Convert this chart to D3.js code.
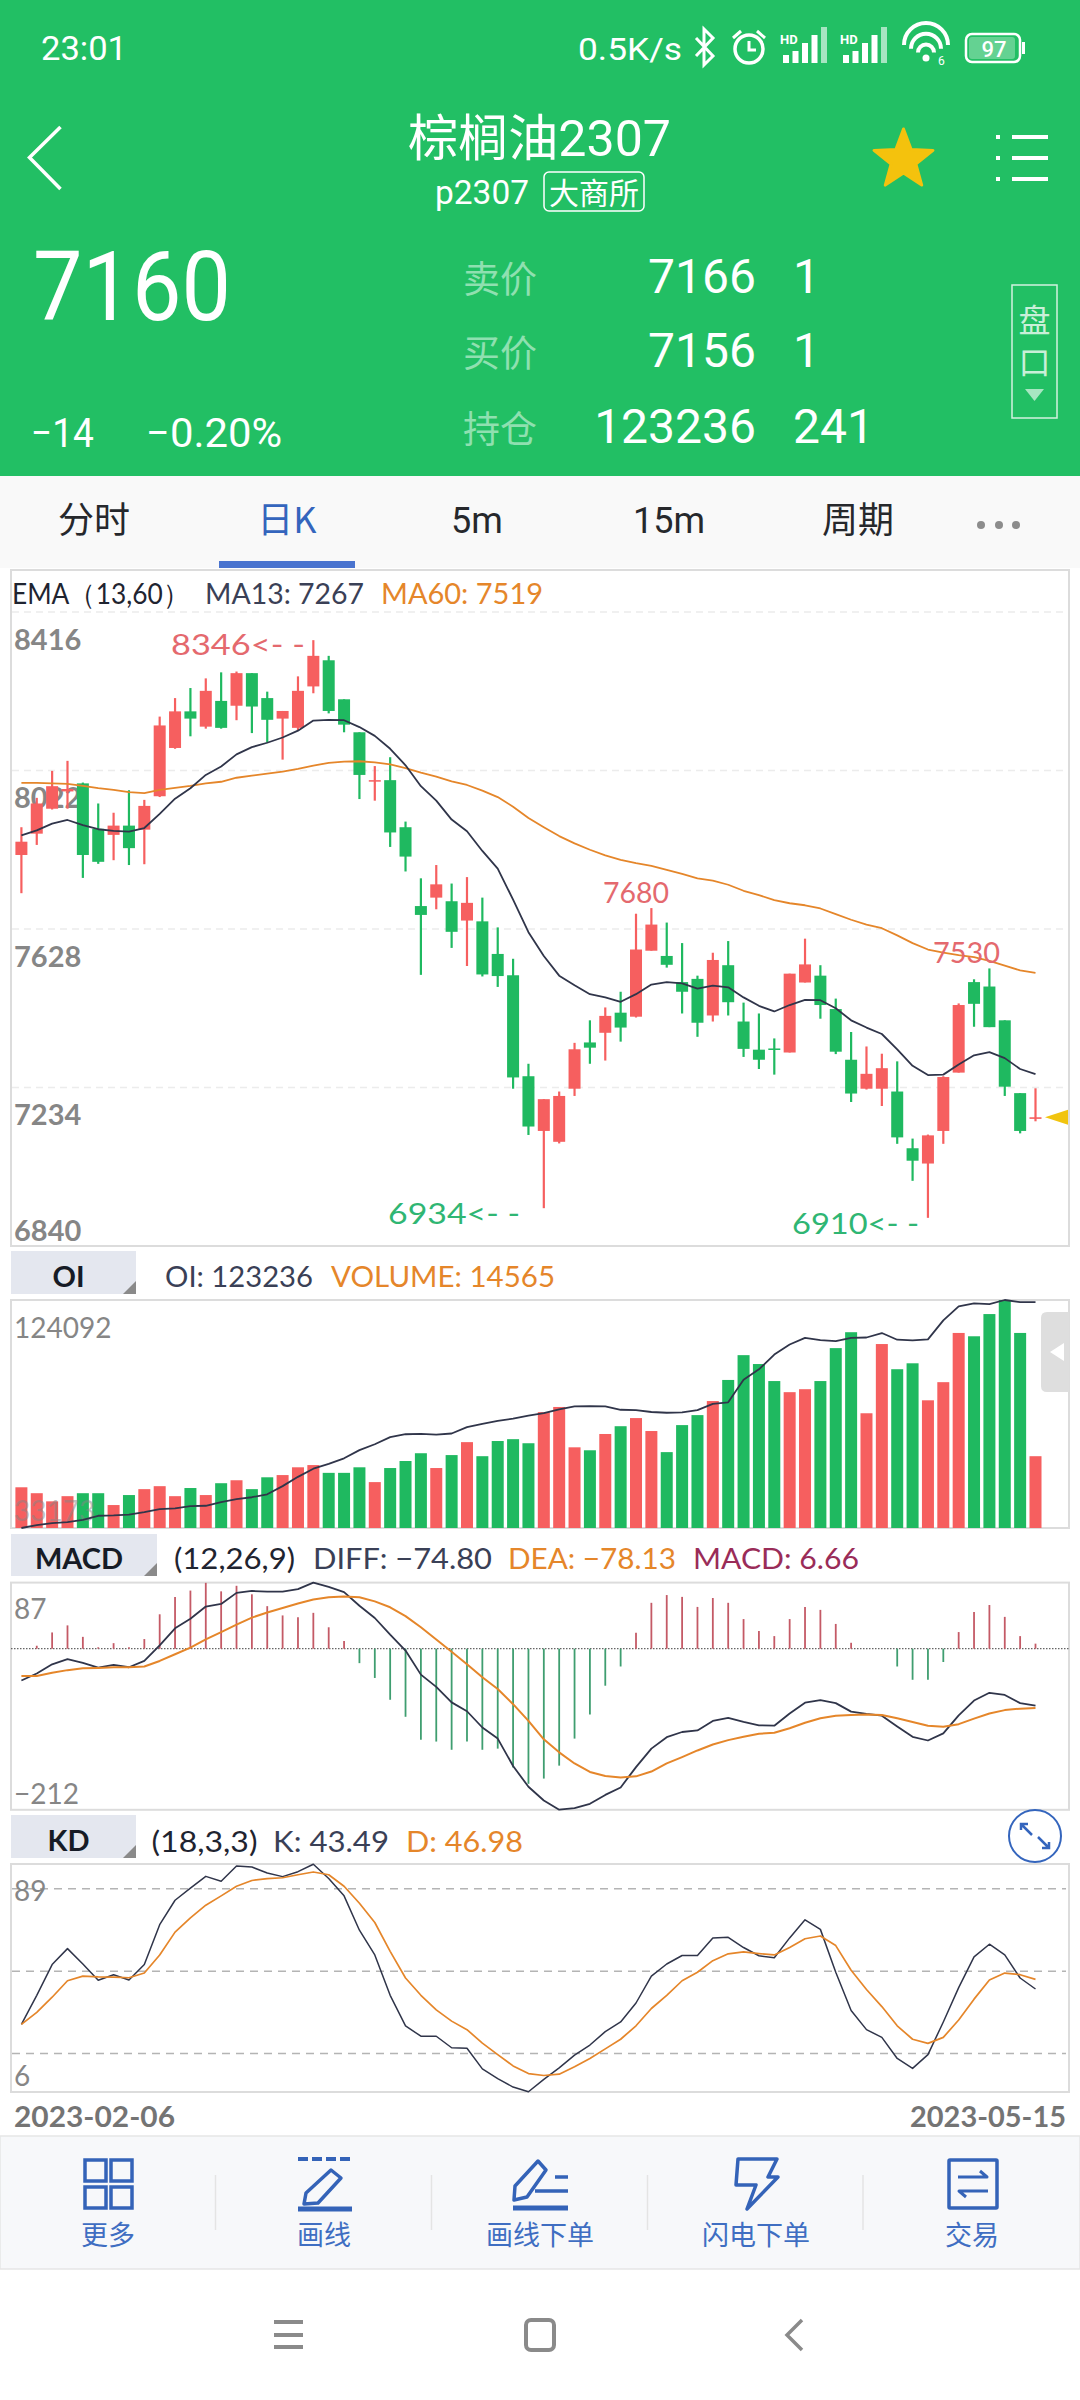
<!DOCTYPE html>
<html>
<head>
<meta charset="utf-8">
<style>
  html, body { margin: 0; padding: 0; background: #fff; }
  svg { display: block; }
</style>
<script src="https://cdn.jsdelivr.net/npm/d3@7"></script>
</head>
<body>
<svg id="chart" width="1080" height="2400"></svg>
<script>
const opens = [7812,7865,7927,7970,7990,7877,7862,7885,7875,7958,8078,8169,8131,8195,8183,8264,8202,8151,8128,8231,8296,8199,8117,7996,7998,7881,7685,7706,7697,7649,7647,7566,7513,7262,7126,7099,7231,7346,7370,7420,7410,7574,7561,7496,7504,7413,7538,7398,7328,7331,7321,7495,7512,7429,7303,7231,7231,7224,7083,7045,7126,7271,7496,7485,7401,7220,7156]
const highs = [7881,7954,8021,8046,7992,7940,7917,7973,7949,8156,8202,8227,8251,8266,8268,8264,8218,8170,8256,8346,8307,8199,8117,8033,8055,7895,7754,7787,7741,7757,7706,7632,7554,7293,7205,7224,7345,7401,7433,7472,7666,7680,7644,7593,7512,7569,7598,7445,7418,7356,7517,7604,7538,7455,7372,7336,7318,7299,7107,7117,7262,7443,7503,7530,7401,7220,7232]
const lows = [7717,7837,7925,7927,7755,7790,7799,7787,7789,7956,8076,8107,8126,8126,8147,8115,8091,8049,8121,8214,8164,8117,7951,7947,7832,7771,7514,7677,7581,7536,7510,7484,7231,7116,6934,7095,7213,7293,7301,7348,7408,7574,7532,7418,7360,7398,7413,7310,7280,7266,7321,7495,7405,7317,7198,7229,7188,7094,7002,6910,7094,7271,7385,7384,7213,7120,7150]
const closes = [7845,7940,7983,7976,7812,7795,7885,7829,7934,8134,8169,8151,8220,8128,8264,8181,8148,8170,8220,8307,8170,8136,8011,7998,7868,7808,7663,7739,7621,7693,7515,7511,7259,7137,7205,7213,7329,7333,7412,7383,7577,7639,7539,7472,7395,7551,7446,7330,7303,7328,7517,7540,7439,7323,7219,7268,7282,7110,7052,7115,7260,7439,7442,7384,7236,7126,7160]
const ma13 = [7861,7873,7890,7899,7886,7876,7872,7870,7879,7914,7952,7978,8011,8032,8062,8080,8091,8104,8121,8146,8148,8147,8130,8108,8076,8035,7983,7947,7900,7871,7822,7778,7701,7620,7561,7512,7488,7466,7458,7447,7466,7490,7496,7493,7480,7487,7483,7458,7437,7423,7439,7452,7451,7431,7401,7383,7367,7329,7288,7265,7266,7291,7314,7322,7307,7280,7267]
const ma60 = [7991,7991,7990,7989,7984,7978,7974,7968,7966,7974,7979,7984,7990,7994,8004,8009,8014,8019,8026,8034,8041,8044,8045,8042,8037,8028,8017,8007,7995,7986,7972,7956,7932,7904,7881,7859,7841,7825,7811,7800,7792,7785,7775,7765,7754,7748,7738,7723,7712,7700,7692,7687,7679,7665,7651,7639,7630,7612,7593,7577,7569,7563,7558,7549,7537,7525,7519]
const volumes = [8259,7058,5406,6457,7058,7058,4655,6682,7883,8484,6457,8109,6682,9085,9685,7883,10286,10736,12313,12764,11187,11187,12313,9310,12163,13589,15166,12163,14791,17419,14565,17644,18019,17193,23500,24551,16367,15767,19070,20647,22299,19671,15391,20872,22899,25752,30032,35062,33260,29807,27554,28155,29807,36489,39717,23275,37315,32209,33411,25903,29582,39567,38891,43396,46249,39567,14565]
const openInterest = [33173,34355,35094,35538,36425,38050,38198,38494,39528,40711,41006,41893,42041,43519,44701,45440,46623,49874,53569,56821,58742,60959,64211,66576,69384,70566,70714,70419,70862,73375,74705,75887,76774,77956,78991,80469,81651,81799,81651,80321,80173,79434,79139,79287,80173,82686,83277,92293,96431,102343,106334,108994,108108,107664,108994,109142,110916,108255,107960,108403,115941,121557,122740,122444,124092,123236,123236]
const diffValues = [-41.9,-32.6,-20.5,-13.6,-18.5,-24.8,-21.4,-24.4,-16.1,4.4,26.8,39.4,55.5,58.9,73.5,76,75,75,78.4,87,81.3,74.5,56.5,40.4,18.5,-2.4,-34.1,-50.2,-70.6,-82.3,-103.7,-118.3,-154.4,-181.7,-199.7,-211.8,-209.9,-204.1,-192.4,-182.6,-155.8,-131.5,-116.4,-109.6,-107.6,-95,-91.1,-96.4,-100.8,-101.3,-85.2,-71.1,-67.7,-71.6,-82.8,-85.7,-88.1,-102.3,-115.9,-120.8,-111.5,-87.7,-68.2,-58,-60.9,-71.6,-74.8]
const deaValues = [-36,-36,-31.7,-28.2,-25.8,-25.3,-24.4,-24.4,-23.4,-16.1,-7.3,1.5,12.2,21.9,31.7,40.9,47.7,53.6,59.4,64.8,67.7,68.7,67.7,62.3,54.5,42.9,28.2,12.2,-3.9,-20.5,-37.5,-53.1,-73,-95,-119.3,-136.4,-151,-162.2,-167.5,-169.5,-168,-161.7,-151,-142.7,-133.9,-126.1,-120.3,-115.9,-112,-110.5,-104.7,-97.4,-91.6,-88.1,-87.2,-86.7,-87.2,-91.6,-96.4,-101.3,-102.8,-99.3,-92,-85.2,-80.8,-78.9,-78.13]
const macdValues = [0,3.9,21.4,30.7,15.6,1.9,7.3,1.9,12.7,45.3,68.2,76.5,86.7,75.5,82.8,71.6,56,43.8,41.4,47.2,28.2,10.2,-19,-38.5,-67.2,-89.6,-119.8,-122.2,-133,-122.2,-133,-131.5,-156.3,-177.8,-170.9,-153.9,-118.3,-86.7,-48.7,-23.4,20.9,60.4,70.6,68.2,55,66.7,60.4,39,23.4,16.6,39,55,51.1,32.6,7.8,0,0,-23.4,-40.9,-40.9,-17.5,21.9,48.2,57.5,41.9,16.6,6.66]
const kValues = [30.6,41.2,52.4,58.2,52.6,46.7,48.7,46.8,52.4,66.9,75.8,80.2,84.5,82.7,88.3,87.9,85.7,84.4,86.2,88.9,83.7,77.4,64.9,55.9,41.2,30.1,26.3,26.3,22.1,21.9,14.4,10.9,7.8,6.1,10.6,14.8,19.4,23.1,28,31.5,38.4,48.2,52.6,55.7,55.7,62.1,62.3,58.6,55.6,54.9,62.1,68.7,65.2,49.6,35.7,28.7,25.9,18.2,14.6,19.6,31.5,44,55.2,59.8,55.9,47.5,43.49]
const dValues = [30.6,35,40.5,46.5,48.2,47.9,47.8,47.6,49.3,55.9,64.2,69.4,74,77.4,80.9,83,83.7,84,85.1,86.1,85.1,80.9,74.7,67.7,57.2,47.5,41.2,35.9,31.8,28.7,23.8,19.6,15.5,12.7,12,12.5,15.2,18.2,21.7,25.2,30.1,36.4,41.2,46.5,49.6,53.8,56.3,57,56.4,55.9,58.6,61.8,62.8,59.3,50.3,43.3,37.1,30.1,25.2,23.7,25.9,32.2,39.8,46.8,49.3,48.7,46.98]

const priceTicks = [8416, 8022, 7628, 7234, 6840]
const oiTicks = [124092, 33173]
const macdTicks = [87, -212]
const kdTicks = [89, 6]
const kdGrid = [80, 50, 20]
const dateLabels = ['2023-02-06', '2023-05-15']

const RED = '#f65f5f'
const GREEN = '#1fb960'
const HEADER = '#22bf64'
const BLUE = '#3465bd'
const LINE = '#30354a'
const ORANGE = '#e5862a'
const GRAY = '#868686'
const FRAME = '#dcdcdc'
const CJK = '"Noto Sans CJK SC", sans-serif'
const NUM = 'Roboto, sans-serif'
const LATIN = 'Lato, "Open Sans", sans-serif'

const svg = d3.select('#chart')

const label = (parent, x, y, str, o = {}) => {
  const t = parent.append('text')
    .attr('x', x)
    .attr('y', y)
    .attr('fill', o.fill || '#fff')
    .attr('font-family', o.family || NUM)
    .attr('font-size', o.size || 28)
    .attr('font-weight', o.weight || 400)
    .attr('text-anchor', o.anchor || 'start')
    .text(str)
  if (o.width) {
    t.attr('textLength', o.width).attr('lengthAdjust', 'spacingAndGlyphs')
  }
  if (o.opacity) t.attr('opacity', o.opacity)
  return t
}

const drawStatusBar = (g) => {
  label(g, 41, 60, '23:01', { size: 33, width: 86 })
  label(g, 578, 60, '0.5K/s', { size: 32, width: 104 })

  // bluetooth
  g.append('path').attr('d', 'M696 38 L713 56 L704 65 L704 29 L713 38 L696 56')
    .attr('fill', 'none').attr('stroke', '#fff').attr('stroke-width', 3)
  // alarm
  g.append('circle').attr('cx', 749).attr('cy', 49).attr('r', 14)
    .attr('fill', 'none').attr('stroke', '#fff').attr('stroke-width', 3.5)
  g.append('path').attr('d', 'M749 41 V50 H756 M733 38 L741 31 M765 38 L757 31')
    .attr('fill', 'none').attr('stroke', '#fff').attr('stroke-width', 3)

  // signal bars, two sims
  ;[783, 843].forEach(x0 => {
    label(g, x0 - 3, 44, 'HD', { size: 13, weight: 700 })
    ;[8, 12, 20, 28, 36].forEach((h, i) => {
      g.append('rect').attr('x', x0 + i * 9.5).attr('y', 63 - h)
        .attr('width', 6).attr('height', h).attr('fill', '#fff')
        .attr('opacity', i == 4 ? 0.6 : 1)
    })
  })

  // wifi
  ;[22, 15, 8].forEach(r => {
    g.append('path')
      .attr('d', `M${926 - r} ${57 - r * 0.55} A${r} ${r} 0 0 1 ${926 + r} ${57 - r * 0.55}`)
      .attr('fill', 'none').attr('stroke', '#fff').attr('stroke-width', 4)
  })
  g.append('circle').attr('cx', 926).attr('cy', 58).attr('r', 3.5).attr('fill', '#fff')
  label(g, 938, 65, '6', { size: 12 })

  // battery
  g.append('rect').attr('x', 966).attr('y', 34).attr('width', 54).attr('height', 28).attr('rx', 6)
    .attr('fill', 'none').attr('stroke', '#fff').attr('stroke-width', 2.5)
  g.append('rect').attr('x', 969).attr('y', 37).attr('width', 46).attr('height', 22).attr('rx', 3)
    .attr('fill', '#fff').attr('opacity', 0.3)
  g.append('rect').attr('x', 1022).attr('y', 42).attr('width', 3).attr('height', 12).attr('fill', '#fff')
  label(g, 994, 57, '97', { size: 22, anchor: 'middle', weight: 500 })
}

const drawQuoteHeader = () => {
  const g = svg.append('g')
  g.append('rect').attr('width', 1080).attr('height', 476).attr('fill', HEADER)
  drawStatusBar(g)

  g.append('path').attr('d', 'M60.5 127 L29.5 157.5 L60.5 189')
    .attr('fill', 'none').attr('stroke', '#fff').attr('stroke-width', 3.5)

  const title = label(g, 408, 156, '', { size: 50, family: CJK, width: 263 })
  title.append('tspan').text('棕榈油')
  title.append('tspan').attr('font-family', NUM).text('2307')

  label(g, 435, 204, 'p2307', { size: 33, width: 94 })
  g.append('rect').attr('x', 544).attr('y', 172).attr('width', 100).attr('height', 39).attr('rx', 5)
    .attr('fill', 'none').attr('stroke', '#fff').attr('stroke-width', 1.5)
  label(g, 594, 204, '大商所', { size: 30, family: CJK, anchor: 'middle' })

  const star = d3.range(10).map(i => {
    const r = i % 2 ? 13 : 31
    const a = -Math.PI / 2 + i * Math.PI / 5
    return [903.5 + r * Math.cos(a), 160 + r * Math.sin(a)]
  })
  g.append('path').attr('d', d3.line()(star) + 'Z').attr('fill', '#f4c20d')
    .attr('stroke', '#f4c20d').attr('stroke-width', 3).attr('stroke-linejoin', 'round')

  ;[137, 158, 179].forEach(y => {
    g.append('rect').attr('x', 996).attr('y', y - 2).attr('width', 4).attr('height', 4).attr('fill', '#fff')
    g.append('rect').attr('x', 1012).attr('y', y - 2).attr('width', 36).attr('height', 4).attr('fill', '#fff')
  })

  label(g, 33, 320, '7160', { size: 96, width: 198 })
  label(g, 31, 447, '−14', { size: 40, width: 63 })
  label(g, 146, 447, '−0.20%', { size: 40, width: 136 })

  const pale = '#8fe0b0'
  const rows = [
    ['卖价', '7166', '1', 293],
    ['买价', '7156', '1', 367],
    ['持仓', '123236', '241', 443]
  ]
  rows.forEach(r => {
    label(g, 463, r[3], r[0], { size: 37, family: CJK, fill: pale })
    label(g, 756, r[3], r[1], { size: 48, anchor: 'end' })
    label(g, 793, r[3], r[2], { size: 48 })
  })

  g.append('rect').attr('x', 1012).attr('y', 285).attr('width', 45).attr('height', 133)
    .attr('fill', 'none').attr('stroke', '#d3f2df').attr('stroke-width', 1.5)
  label(g, 1034.5, 332, '盘', { size: 32, family: CJK, fill: '#c8efd8', anchor: 'middle' })
  label(g, 1034.5, 374, '口', { size: 32, family: CJK, fill: '#c8efd8', anchor: 'middle' })
  g.append('path').attr('d', 'M1025 389 H1044 L1034.5 401 Z').attr('fill', '#a8e6c2')
}

const drawTabs = () => {
  const g = svg.append('g')
  g.append('rect').attr('y', 476).attr('width', 1080).attr('height', 92).attr('fill', '#f9f9f9')
  const dark = '#26282c'
  label(g, 94, 533, '分时', { size: 36, family: CJK, fill: dark, anchor: 'middle' })
  label(g, 287, 533, '日K', { size: 36, family: CJK, fill: BLUE, anchor: 'middle' })
  label(g, 477, 533, '5m', { size: 36, fill: dark, anchor: 'middle' })
  label(g, 669, 533, '15m', { size: 36, fill: dark, anchor: 'middle' })
  label(g, 858, 533, '周期', { size: 36, family: CJK, fill: dark, anchor: 'middle' })
  ;[981, 999, 1016].forEach(x => {
    g.append('circle').attr('cx', x).attr('cy', 525).attr('r', 4).attr('fill', '#8c8c8c')
  })
  g.append('rect').attr('x', 219).attr('y', 561).attr('width', 136).attr('height', 7).attr('fill', '#4a74cf')
}

const x = d3.scaleLinear().domain([0, opens.length - 1]).range([21.4, 1035.5])
const yPrice = d3.scaleLinear().domain([6840, 8416]).range([1246, 612])
const yVolume = d3.scaleLinear().domain([0, 46250]).range([1528, 1300])
const yOi = d3.scaleLinear().domain([33173, 124092]).range([1528, 1300])
const yMacd = d3.scaleLinear().domain([-212, 87]).range([1809.8, 1582.6])
const yKd = d3.scaleLinear().domain([6, 89]).range([2092, 1864])

const candleColor = i => closes[i] >= opens[i] ? RED : GREEN

const frame = (y0, y1) => {
  svg.append('rect').attr('x', 11).attr('y', y0).attr('width', 1058).attr('height', y1 - y0)
    .attr('fill', 'none').attr('stroke', FRAME).attr('stroke-width', 2)
}

const valueAxis = (scale, ticks, dyFor, size, weight) => {
  const g = svg.append('g').attr('transform', 'translate(14,0)')
    .call(d3.axisRight(scale).tickValues(ticks).tickSize(0).tickPadding(0)
      .tickFormat(d => String(d).replace('-', '−')))
  g.select('.domain').remove()
  g.selectAll('text')
    .attr('font-family', LATIN)
    .attr('font-size', size)
    .attr('font-weight', weight)
    .attr('fill', GRAY)
    .attr('dy', dyFor)
  return g
}

const gridLines = (scale, ticks, stroke, dash) => {
  svg.append('g').selectAll('line').data(ticks).join('line')
    .attr('x1', 12).attr('x2', 1066)
    .attr('y1', d => scale(d)).attr('y2', d => scale(d))
    .attr('stroke', stroke).attr('stroke-width', 1.5).attr('stroke-dasharray', dash)
}

const drawSeries = (values, scale, color, width = 1.8) => {
  const line = d3.line().x((d, i) => x(i)).y(d => scale(d))
  svg.append('path').attr('d', line(values))
    .attr('fill', 'none').attr('stroke', color).attr('stroke-width', width)
    .attr('stroke-linejoin', 'round')
}

const drawPricePanel = () => {
  frame(570, 1246)
  const head = svg.append('g')
  label(head, 12, 604, 'EMA（13,60）', { size: 28, family: LATIN, fill: '#1f2430', width: 177 })
  label(head, 205, 604, 'MA13: 7267', { size: 28, family: LATIN, fill: '#3a4056', width: 159 })
  label(head, 381, 604, 'MA60: 7519', { size: 28, family: LATIN, fill: ORANGE, width: 162 })

  gridLines(yPrice, priceTicks.slice(0, 4), '#ececec', '7 5')
  valueAxis(yPrice, priceTicks, d => d == 6840 ? -6 : 37, 29, 700)

  const candles = svg.append('g')
  candles.selectAll('line').data(opens).join('line')
    .attr('x1', (d, i) => x(i)).attr('x2', (d, i) => x(i))
    .attr('y1', (d, i) => yPrice(highs[i])).attr('y2', (d, i) => yPrice(lows[i]))
    .attr('stroke', (d, i) => candleColor(i)).attr('stroke-width', 2.2)
  candles.selectAll('rect').data(opens).join('rect')
    .attr('x', (d, i) => x(i) - 6)
    .attr('width', 12)
    .attr('y', (d, i) => yPrice(Math.max(opens[i], closes[i])))
    .attr('height', (d, i) => Math.max(1.5, Math.abs(yPrice(opens[i]) - yPrice(closes[i]))))
    .attr('fill', (d, i) => candleColor(i))

  drawSeries(ma60, yPrice, ORANGE)
  drawSeries(ma13, yPrice, LINE)

  const marks = svg.append('g')
  const redText = '#e4696e'
  const greenText = '#2fb673'
  label(marks, 171, 655, '8346<- -', { size: 29, family: LATIN, fill: redText, width: 134 })
  label(marks, 603, 903, '7680', { size: 29, family: LATIN, fill: redText, width: 66 })
  label(marks, 933, 962.5, '7530', { size: 29, family: LATIN, fill: redText, width: 67 })
  label(marks, 388, 1224, '6934<- -', { size: 29, family: LATIN, fill: greenText, width: 132 })
  label(marks, 792, 1233.5, '6910<- -', { size: 29, family: LATIN, fill: greenText, width: 127 })

  const yLast = yPrice(closes[closes.length - 1])
  marks.append('path').attr('d', `M1045 ${yLast} L1068 ${yLast - 7.5} V${yLast + 7.5} Z`).attr('fill', '#f1c40f')
}

const tabButton = (y0, y1, x1, name) => {
  const g = svg.append('g')
  g.append('rect').attr('x', 11).attr('y', y0).attr('width', x1 - 11).attr('height', y1 - y0).attr('fill', '#e4e7ef')
  g.append('path').attr('d', `M${x1} ${y1 - 13} V${y1} H${x1 - 13} Z`).attr('fill', '#8a8a8a')
  label(g, (11 + x1) / 2 - 5, y1 - 7, name, { size: 29, family: LATIN, fill: '#161b26', anchor: 'middle', weight: 700 })
  return g
}

const drawOiPanel = () => {
  tabButton(1251, 1294, 136, 'OI')
  const head = svg.append('g')
  label(head, 165, 1287, 'OI: 123236', { size: 28, family: LATIN, fill: '#3a4056', width: 148 })
  label(head, 331, 1287, 'VOLUME: 14565', { size: 28, family: LATIN, fill: ORANGE, width: 224 })

  frame(1300, 1528)

  svg.append('g').selectAll('rect').data(volumes).join('rect')
    .attr('x', (d, i) => x(i) - 6)
    .attr('width', 12)
    .attr('y', d => yVolume(d))
    .attr('height', d => yVolume(0) - yVolume(d))
    .attr('fill', (d, i) => candleColor(i))

  valueAxis(yOi, oiTicks, d => d == 33173 ? -8 : 37, 28, 400)
    .selectAll('.tick').attr('opacity', d => d == 33173 ? 0.5 : 1)

  drawSeries(openInterest, yOi, LINE)

  svg.append('path').attr('d', 'M1069 1312 H1047 Q1041 1312 1041 1318 V1386 Q1041 1392 1047 1392 H1069 Z').attr('fill', '#dedede')
  svg.append('path').attr('d', 'M1050 1352 L1064 1343 V1361 Z').attr('fill', '#fff')
}

const drawMacdPanel = () => {
  tabButton(1534, 1576, 157, 'MACD')
  const head = svg.append('g')
  label(head, 174, 1569, '(12,26,9)', { size: 28, family: LATIN, fill: '#1f2430', width: 121 })
  label(head, 313, 1569, 'DIFF: −74.80', { size: 28, family: LATIN, fill: '#3a4056', width: 179 })
  label(head, 508, 1569, 'DEA: −78.13', { size: 28, family: LATIN, fill: ORANGE, width: 168 })
  label(head, 693, 1569, 'MACD: 6.66', { size: 28, family: LATIN, fill: '#9a2c58', width: 166 })

  frame(1582.6, 1809.8)

  valueAxis(yMacd, macdTicks, d => d == 87 ? 36 : -6, 28, 400)

  svg.append('line').attr('x1', 11).attr('x2', 1069)
    .attr('y1', yMacd(0)).attr('y2', yMacd(0))
    .attr('stroke', '#666').attr('stroke-width', 1.2).attr('stroke-dasharray', '1.5 1.5')

  svg.append('g').selectAll('line').data(macdValues).join('line')
    .attr('x1', (d, i) => x(i)).attr('x2', (d, i) => x(i))
    .attr('y1', yMacd(0)).attr('y2', d => yMacd(d))
    .attr('stroke', d => d >= 0 ? '#c45a66' : '#3f9e70')
    .attr('stroke-width', 1.8)

  drawSeries(diffValues, yMacd, LINE)
  drawSeries(deaValues, yMacd, ORANGE, 2)
}

const drawKdPanel = () => {
  tabButton(1815, 1858, 136, 'KD')
  const head = svg.append('g')
  label(head, 151.5, 1852, '(18,3,3)', { size: 28, family: LATIN, fill: '#1f2430', width: 106 })
  label(head, 273, 1852, 'K: 43.49', { size: 28, family: LATIN, fill: '#3a4056', width: 116 })
  label(head, 406, 1852, 'D: 46.98', { size: 28, family: LATIN, fill: ORANGE, width: 117 })

  head.append('circle').attr('cx', 1035).attr('cy', 1836).attr('r', 26)
    .attr('fill', '#fff').attr('stroke', BLUE).attr('stroke-width', 2)
  head.append('path')
    .attr('d', 'M1021 1830 V1824 H1028 M1021 1824 L1032 1835 M1049 1842 V1848 H1042 M1049 1848 L1038 1837')
    .attr('fill', 'none').attr('stroke', BLUE).attr('stroke-width', 2.5)

  frame(1864, 2092)

  gridLines(yKd, kdGrid, '#b4b4b4', '8 6')
  valueAxis(yKd, kdTicks, d => d == 89 ? 36 : -7, 28, 400)

  drawSeries(kValues, yKd, LINE, 1.5)
  drawSeries(dValues, yKd, ORANGE, 1.7)

  label(svg, 14, 2127, dateLabels[0], { size: 28, family: LATIN, fill: '#747474', width: 161, weight: 700 })
  label(svg, 910, 2127, dateLabels[1], { size: 28, family: LATIN, fill: '#747474', width: 156, weight: 700 })
}

const drawToolbar = () => {
  const g = svg.append('g')
  g.append('rect').attr('x', 0).attr('y', 2136).attr('width', 1080).attr('height', 133)
    .attr('fill', '#f7f8fa').attr('stroke', '#e6e6e6').attr('stroke-width', 1.5)
  ;[215.5, 431.5, 647.5, 863].forEach(px => {
    g.append('line').attr('x1', px).attr('x2', px).attr('y1', 2175).attr('y2', 2230)
      .attr('stroke', '#e4e4e4').attr('stroke-width', 1.5)
  })

  const iconBlue = '#3463b8'
  const icon = (d, w = 3.5) => g.append('path').attr('d', d)
    .attr('fill', 'none').attr('stroke', iconBlue).attr('stroke-width', w)
    .attr('stroke-linejoin', 'round')

  ;[85, 111].forEach(rx => {
    ;[2160, 2187].forEach(ry => {
      g.append('rect').attr('x', rx).attr('y', ry).attr('width', 21).attr('height', 21)
        .attr('fill', 'none').attr('stroke', iconBlue).attr('stroke-width', 3.5)
    })
  })

  icon('M298 2159 H352', 4).attr('stroke-dasharray', '10 4')
  icon('M298 2209 H352', 5)
  icon('M331 2170 L341 2178 L318 2203 L304 2204 L306 2193 Z')

  icon('M513 2208 H568', 5)
  icon('M538 2161 L546 2170 L527 2197 L514 2200 L515 2186 Z')
  icon('M555 2177 H568 M535 2191 H568')

  icon('M738 2159 H777 L768 2177 H778 L747 2209 L756 2185 H736 Z')

  g.append('rect').attr('x', 949).attr('y', 2160).attr('width', 48).attr('height', 48).attr('rx', 1)
    .attr('fill', 'none').attr('stroke', iconBlue).attr('stroke-width', 3.5)
  icon('M958 2177 H987 L980 2171 M988 2191 H959 L966 2197', 3)

  const names = ['更多', '画线', '画线下单', '闪电下单', '交易']
  names.forEach((n, i) => {
    label(g, 108 + i * 216, 2245, n, { size: 27, family: CJK, fill: '#3f6ec2', anchor: 'middle' })
  })
}

const drawNavBar = () => {
  const g = svg.append('g')
  const navGray = '#8a8a8a'
  ;[2322, 2335, 2347].forEach(y => {
    g.append('line').attr('x1', 274).attr('x2', 303).attr('y1', y).attr('y2', y)
      .attr('stroke', navGray).attr('stroke-width', 4)
  })
  g.append('rect').attr('x', 526).attr('y', 2320).attr('width', 28).attr('height', 30).attr('rx', 5)
    .attr('fill', 'none').attr('stroke', navGray).attr('stroke-width', 4)
  g.append('path').attr('d', 'M802 2320 L787 2335 L802 2350')
    .attr('fill', 'none').attr('stroke', navGray).attr('stroke-width', 3.5)
}

const main = () => {
  drawQuoteHeader()
  drawTabs()
  drawPricePanel()
  drawOiPanel()
  drawMacdPanel()
  drawKdPanel()
  drawToolbar()
  drawNavBar()
}

main()
</script>
</body>
</html>
